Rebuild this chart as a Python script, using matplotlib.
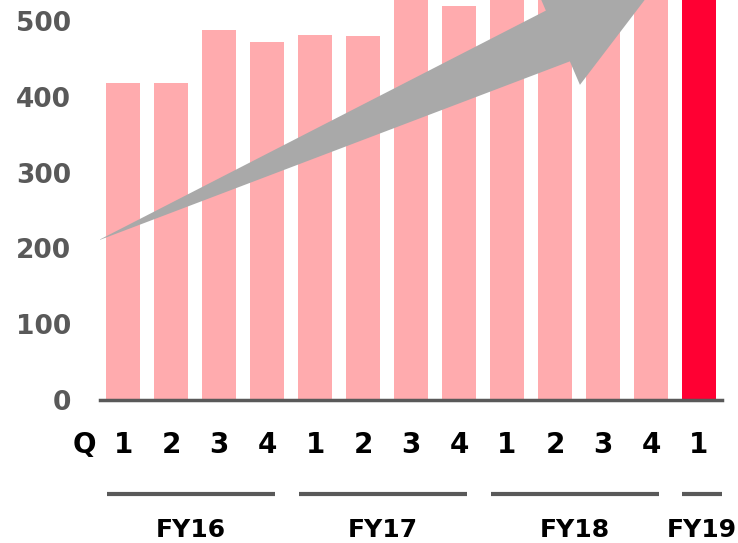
import matplotlib
matplotlib.use('Agg')
import matplotlib.pyplot as plt
from matplotlib.patches import Polygon
from matplotlib.transforms import blended_transform_factory

# quarterly values (bars that run off the top are estimates)
quarters = ['1', '2', '3', '4', '1', '2', '3', '4', '1', '2', '3', '4', '1']
values = [418, 418, 489, 472, 482, 481, 540, 520, 545, 550, 560, 575, 600]
fiscal_years = ['FY16', 'FY17', 'FY18', 'FY19']
fy_start = [0, 4, 8, 12]
fy_end = [3, 7, 11, 12]
yticks = [0, 100, 200, 300, 400, 500]

pink = '#FFABAE'
red = '#FF0033'
dark = '#595959'

plt.rcParams['font.family'] = ['DejaVu Sans']

fig = plt.figure(figsize=(7.38, 5.43), dpi=100)
ax = fig.add_axes([100 / 738, 1 - 400 / 543, 622 / 738, 400 / 543])

x = list(range(len(values)))
colors = [pink] * (len(values) - 1) + [red]
ax.bar(x, values, width=0.71, color=colors, zorder=2)

xmax = 12.48
ax.set_xlim(-0.48, xmax)
ax.set_ylim(0, 528)

# trend arrow
arrow = [(-0.54, 210), (8.81, 514), (8.60, 545), (10.94, 534),
         (9.52, 416), (9.31, 447)]
ax.add_patch(Polygon(arrow, closed=True, color='#A9A9A9', lw=0, zorder=3))

for s in ['top', 'right', 'left']:
    ax.spines[s].set_visible(False)
ax.spines['bottom'].set_color(dark)
ax.spines['bottom'].set_linewidth(2.5)
ax.spines['bottom'].set_zorder(4)

ax.set_yticks(yticks)
ax.set_yticklabels([str(t) for t in yticks])
ax.tick_params(axis='y', length=0, pad=21, labelsize=19, labelcolor=dark)
for lab in ax.get_yticklabels():
    lab.set_fontweight('bold')
ax.set_xticks([])

trans = blended_transform_factory(ax.transData, ax.transAxes)
ax.text(-0.8, -0.1125, 'Q', transform=trans, ha='center', va='center',
        fontsize=20, fontweight='bold', color='black', clip_on=False)
for i, q in enumerate(quarters):
    ax.text(i, -0.1125, q, transform=trans, ha='center', va='center',
            fontsize=20, fontweight='bold', color='black', clip_on=False)

for fy, a, b in zip(fiscal_years, fy_start, fy_end):
    x0 = a - 0.33
    x1 = b + 0.17
    if b == fy_end[-1]:
        x0 = a - 0.35
        x1 = xmax
    ax.plot([x0, x1], [-0.235, -0.235], transform=trans, color=dark,
            lw=3, clip_on=False, solid_capstyle='butt')
    ax.text((x0 + x1) / 2, -0.325, fy, transform=trans, ha='center',
            va='center', fontsize=18, fontweight='bold', color='black',
            clip_on=False)

fig.savefig('out.png', dpi=100)
